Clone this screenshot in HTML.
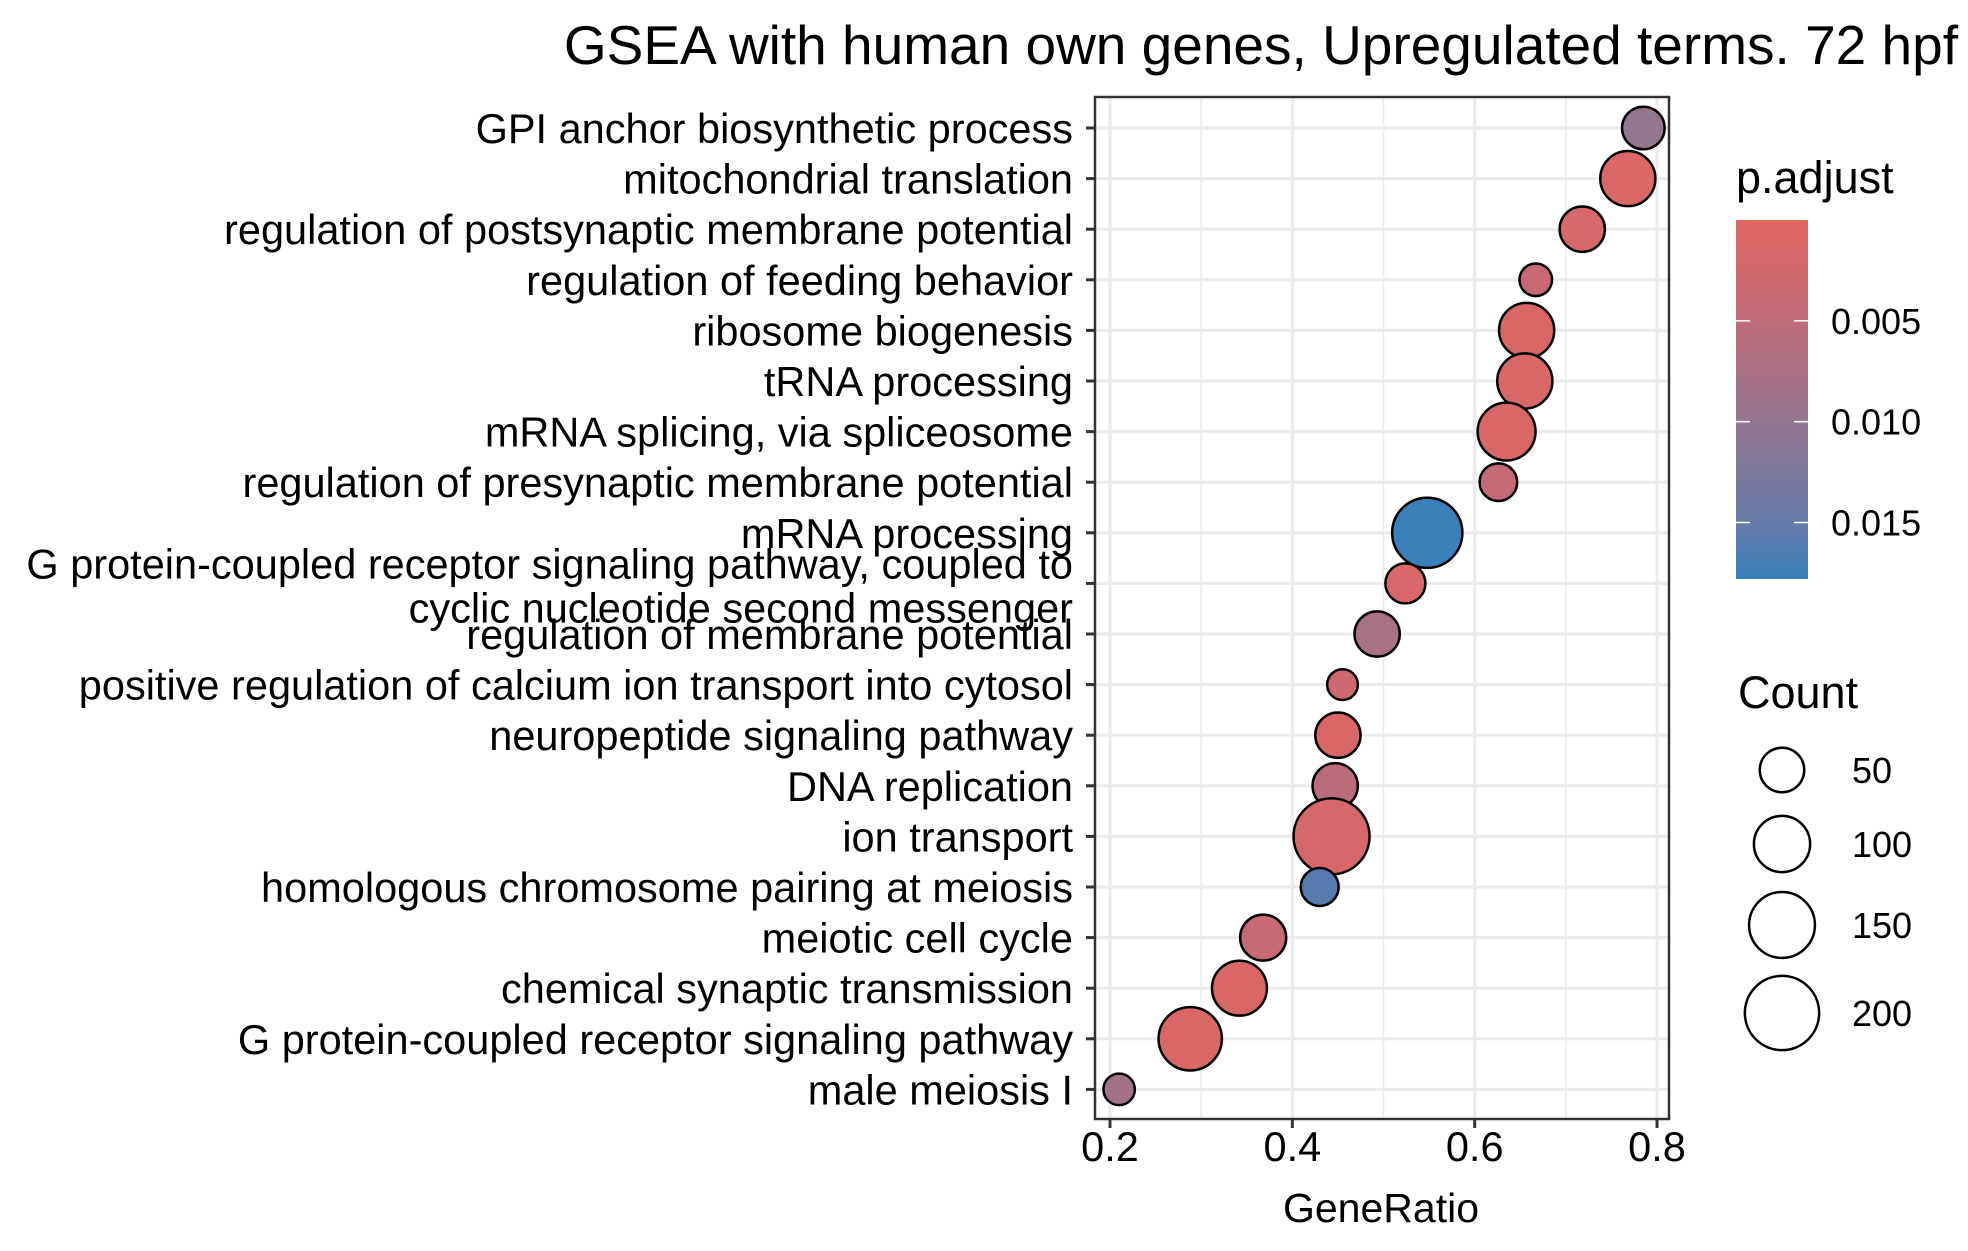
<!DOCTYPE html>
<html><head><meta charset="utf-8"><style>
html,body{margin:0;padding:0;background:#fff;}
svg{display:block;font-family:"Liberation Sans",Arial,sans-serif;}
</style></head><body>
<svg id="chart" width="1968" height="1251" viewBox="0 0 1968 1251">
<rect x="0" y="0" width="1968" height="1251" fill="#fff"/>
<text x="1958" y="64" text-anchor="end" font-size="55" fill="#000">GSEA with human own genes, Upregulated terms. 72 hpf</text>
<g id="panel"></g>
<g id="ylabels"></g>
<g id="xaxis"></g>
<text x="1381" y="1222" text-anchor="middle" font-size="41" fill="#000">GeneRatio</text>
<g id="legend"></g>
</svg>
<script>
const terms = ["GPI anchor biosynthetic process","mitochondrial translation","regulation of postsynaptic membrane potential","regulation of feeding behavior","ribosome biogenesis","tRNA processing","mRNA splicing, via spliceosome","regulation of presynaptic membrane potential","mRNA processing","G protein-coupled receptor signaling pathway, coupled to|cyclic nucleotide second messenger","regulation of membrane potential","positive regulation of calcium ion transport into cytosol","neuropeptide signaling pathway","DNA replication","ion transport","homologous chromosome pairing at meiosis","meiotic cell cycle","chemical synaptic transmission","G protein-coupled receptor signaling pathway","male meiosis I"];
const geneRatio = [0.785,0.768,0.718,0.667,0.657,0.655,0.635,0.626,0.548,0.524,0.493,0.455,0.45,0.447,0.443,0.43,0.368,0.342,0.288,0.21];
const counts = [43,95,53,11,95,95,108,26,175,34,53,6,53,53,211,27,56,94,136,8];
const pAdjust = [0.0100,0.0010,0.0015,0.0040,0.0012,0.0012,0.0012,0.0042,0.0176,0.0015,0.0075,0.0030,0.0012,0.0055,0.0018,0.0160,0.0040,0.0012,0.0012,0.0082];
const xTicks = [0.2,0.4,0.6,0.8];
const xTickLabels = ["0.2","0.4","0.6","0.8"];
const xMinor = [0.3,0.5,0.7];
const pTicks = [0.005,0.010,0.015];
const pTickLabels = ["0.005","0.010","0.015"];
const sizeBreaks = [50,100,150,200];

const NS="http://www.w3.org/2000/svg";
const PL=1095,PR=1669,PT=97,PB=1119;
const X=v=>1110+(v-0.2)*911.7;
const Y=i=>128+i*50.6;
const R=c=>Math.sqrt(200+5.9*c);
const PMAX=0.0178;
const stops=[[0,[226,102,98]],[0.28,[192,107,122]],[0.56,[147,118,143]],[0.84,[104,122,168]],[1,[55,128,188]]];
function col(p){let t=Math.max(0,Math.min(1,p/PMAX));for(let k=1;k<stops.length;k++){if(t<=stops[k][0]){const a=stops[k-1],b=stops[k];const f=(t-a[0])/(b[0]-a[0]);const c=a[1].map((v,j)=>Math.round(v+(b[1][j]-v)*f));return `rgb(${c[0]},${c[1]},${c[2]})`;}}return "rgb(55,128,188)";}
function mk(tag,attrs,parent){const e=document.createElementNS(NS,tag);for(const k in attrs)e.setAttribute(k,attrs[k]);parent.appendChild(e);return e;}

const panel=document.getElementById('panel');
const ylab=document.getElementById('ylabels');
const xax=document.getElementById('xaxis');
const leg=document.getElementById('legend');
mk('rect',{x:PL,y:PT,width:PR-PL,height:PB-PT,fill:'#fff'},panel);
xMinor.forEach(v=>{const l=mk('line',{x1:X(v),x2:X(v),y1:PT,y2:PB,stroke:'#ebebeb','stroke-width':1.6},panel);

});
xTicks.forEach(v=>{const l=mk('line',{x1:X(v),x2:X(v),y1:PT,y2:PB,stroke:'#ebebeb','stroke-width':3.2},panel);

});
terms.forEach((t,i)=>{const l=mk('line',{x1:PL,x2:PR,y1:Y(i),y2:Y(i),stroke:'#ebebeb','stroke-width':3.2},panel);

});
terms.forEach((t,i)=>{const c=mk('circle',{cx:X(geneRatio[i]),cy:Y(i),r:R(counts[i]),fill:col(pAdjust[i]),stroke:'#000','stroke-width':2.5},panel);

});
mk('rect',{x:PL,y:PT,width:PR-PL,height:PB-PT,fill:'none',stroke:'#333','stroke-width':2.5},panel);

terms.forEach((t,i)=>{const tk=mk('line',{x1:PL-9,x2:PL,y1:Y(i),y2:Y(i),stroke:'#333','stroke-width':3},ylab);


const parts=t.split('|');
if(parts.length===1){const tx=mk('text',{x:1073,y:Y(i)+15,'text-anchor':'end','font-size':41.5,fill:'#000'},ylab);tx.textContent=t;

}
else{parts.forEach((p,j)=>{const tx=mk('text',{x:1073,y:Y(i)+15+(j===0?-20:24),'text-anchor':'end','font-size':41.5,fill:'#000'},ylab);tx.textContent=p;

});}});

xTicks.forEach((v,i)=>{const tk=mk('line',{x1:X(v),x2:X(v),y1:PB,y2:PB+9,stroke:'#333','stroke-width':3},xax);


const tx=mk('text',{x:X(v),y:PB+42,'text-anchor':'middle','font-size':41.5,fill:'#000'},xax);tx.textContent=xTickLabels[i];

});

// colour legend
const pt=mk('text',{x:1736,y:193,'font-size':45,fill:'#000'},leg);pt.textContent='p.adjust';


const defs=mk('defs',{},leg);
const lg=mk('linearGradient',{id:'pg',x1:0,y1:0,x2:0,y2:1},defs);
const CT=220,CB=579,PY=p=>CT+(p/PMAX)*(CB-CT);
stops.forEach(s=>mk('stop',{offset:s[0],'stop-color':`rgb(${s[1].join(',')})`},lg));
const cb=mk('rect',{x:1736,y:CT,width:72,height:CB-CT,fill:'url(#pg)'},leg);


pTicks.forEach((p,i)=>{mk('line',{x1:1736,x2:1750,y1:PY(p),y2:PY(p),stroke:'#fff','stroke-width':1.5},leg);
mk('line',{x1:1794,x2:1808,y1:PY(p),y2:PY(p),stroke:'#fff','stroke-width':1.5},leg);
const tx=mk('text',{x:1831,y:PY(p)+13,'font-size':36,fill:'#000'},leg);tx.textContent=pTickLabels[i];

});

// size legend
const ct=mk('text',{x:1738,y:708,'font-size':45,fill:'#000'},leg);ct.textContent='Count';


const sy=[770,844,925,1013];
sizeBreaks.forEach((s,i)=>{const c=mk('circle',{cx:1782,cy:sy[i],r:R(s),fill:'#fff',stroke:'#000','stroke-width':2.5},leg);


const tx=mk('text',{x:1852,y:sy[i]+13,'font-size':36,fill:'#000'},leg);tx.textContent=String(s);

});
</script>
</body></html>
